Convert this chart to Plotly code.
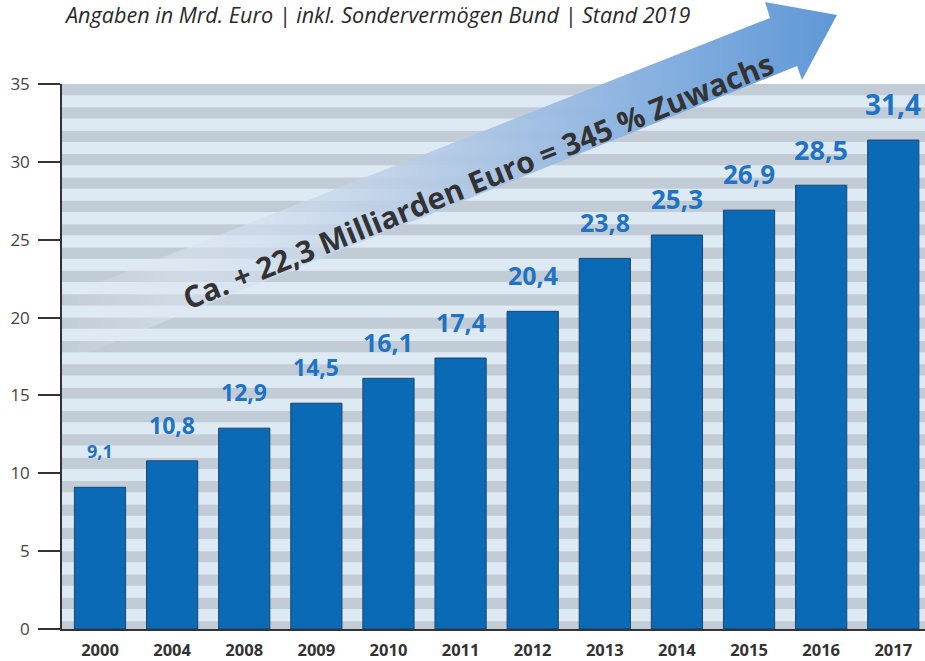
import plotly.graph_objects as go

# ---- data ----
years = ["2000", "2004", "2008", "2009", "2010", "2011", "2012", "2013", "2014", "2015", "2016", "2017"]
values = [9.1, 10.8, 12.9, 14.5, 16.1, 17.4, 20.4, 23.8, 25.3, 26.9, 28.5, 31.4]
y_ticks = [0, 5, 10, 15, 20, 25, 30, 35]

title_text = "Angaben in Mrd. Euro | inkl. Sondervermögen Bund | Stand 2019"
arrow_text = "Ca. + 22,3 Milliarden Euro = 345 % Zuwachs"

# ---- style ----
W, H = 925, 661
ML, MB = 62, 32          # left edge of axis, bottom margin (px)
TOP = 84                 # pixel y of the top of the value axis
label_sizes = [18, 23, 23, 23, 25, 25, 25, 25, 26, 26, 27, 28]
BAR_COLOR = "#0b6ab6"
LABEL_COLOR = "#1f73c4"
STRIPE_DARK = "#c1ccd6"
STRIPE_LIGHT = "#dde9f3"
FONT = "Open Sans"

# decorative arrow outline in page pixels (overlay axes map 1:1 to pixels)
ARROW_X = [62, 770, 765, 837, 802, 797, 62]
ARROW_Y = [297, 18, 2, 15, 80, 66, 363]

fig = go.Figure()

fig.add_trace(go.Bar(
    x=years, y=values,
    marker=dict(color=BAR_COLOR, line=dict(color="#1b4470", width=1)),
    hoverinfo="skip", xaxis="x", yaxis="y",
))

# arrow on full-page overlay axes
fig.add_trace(go.Scatter(
    x=ARROW_X, y=ARROW_Y, mode="lines", fill="toself",
    line=dict(width=0, color="rgba(0,0,0,0)"),
    fillgradient=dict(
        type="horizontal", start=62, stop=837,
        colorscale=[
            [0.0, "rgba(230,238,248,0)"],
            [0.15, "rgba(222,231,243,0.5)"],
            [0.45, "rgba(185,205,230,0.88)"],
            [0.75, "rgba(138,178,224,1)"],
            [1.0, "rgba(95,152,214,1)"],
        ],
    ),
    hoverinfo="skip", showlegend=False, xaxis="x2", yaxis="y2",
))

# background stripes
shapes = []
period = 1.5
y0 = y_ticks[-1]
while y0 > 0:
    shapes.append(dict(type="rect", xref="x domain", yref="y", x0=0, x1=1,
                       y0=max(y0 - period, 0), y1=y0, fillcolor=STRIPE_LIGHT,
                       line=dict(width=0), layer="below"))
    shapes.append(dict(type="rect", xref="x domain", yref="y", x0=0, x1=1,
                       y0=max(y0 - 0.72, 0), y1=y0, fillcolor=STRIPE_DARK,
                       line=dict(width=0), layer="below"))
    y0 -= period

annotations = []
for i, (v, s) in enumerate(zip(values, label_sizes)):
    annotations.append(dict(
        x=i, y=v, xref="x", yref="y", text=f"{v:.1f}".replace(".", ","),
        showarrow=False, yshift=36, yanchor="middle",
        font=dict(family=FONT, size=s, color=LABEL_COLOR, weight="bold"),
    ))

annotations.append(dict(
    x=62, y=14, xref="x2", yref="y2", text=title_text, showarrow=False,
    xanchor="left", yanchor="middle",
    font=dict(family=FONT, size=21.6, color="#2a2a2a", style="italic"),
))
annotations.append(dict(
    x=478, y=180, xref="x2", yref="y2", text=arrow_text, showarrow=False,
    textangle=-22, xanchor="center", yanchor="middle",
    font=dict(family=FONT, size=30, color="#333333", weight="bold"),
))

plot_h = H - MB
fig.update_layout(
    width=W, height=H,
    margin=dict(l=0, r=0, t=0, b=MB, pad=0, autoexpand=False),
    paper_bgcolor="white", plot_bgcolor="rgba(0,0,0,0)",
    showlegend=False, bargap=0.29,
    shapes=shapes, annotations=annotations,
    xaxis=dict(
        type="category", domain=[ML / W, 1], range=[-0.527, 11.44], anchor="y",
        automargin=False,
        showline=True, linecolor="#333333", linewidth=1.5,
        ticks="", showgrid=False, ticklabelstandoff=5,
        tickfont=dict(family=FONT, size=16.5, color="#333333", weight="bold"),
    ),
    yaxis=dict(
        domain=[0, (plot_h - TOP) / plot_h], range=[0, 35], anchor="x",
        automargin=False,
        tickvals=y_ticks, ticks="outside", ticklen=22, tickwidth=1.5,
        tickcolor="#333333", showline=True, linecolor="#333333", linewidth=1.5,
        showgrid=False, zeroline=False, ticklabelstandoff=5,
        tickfont=dict(family=FONT, size=17, color="#444444"),
    ),
    xaxis2=dict(domain=[0, 1], range=[0, W], anchor="y2", visible=False,
                fixedrange=True, automargin=False),
    yaxis2=dict(domain=[0, 1], range=[plot_h, 0], anchor="x2", visible=False,
                fixedrange=True, automargin=False),
)

fig.write_html("out.html", config={"displayModeBar": False},
               post_script="document.body.style.margin='0';")
